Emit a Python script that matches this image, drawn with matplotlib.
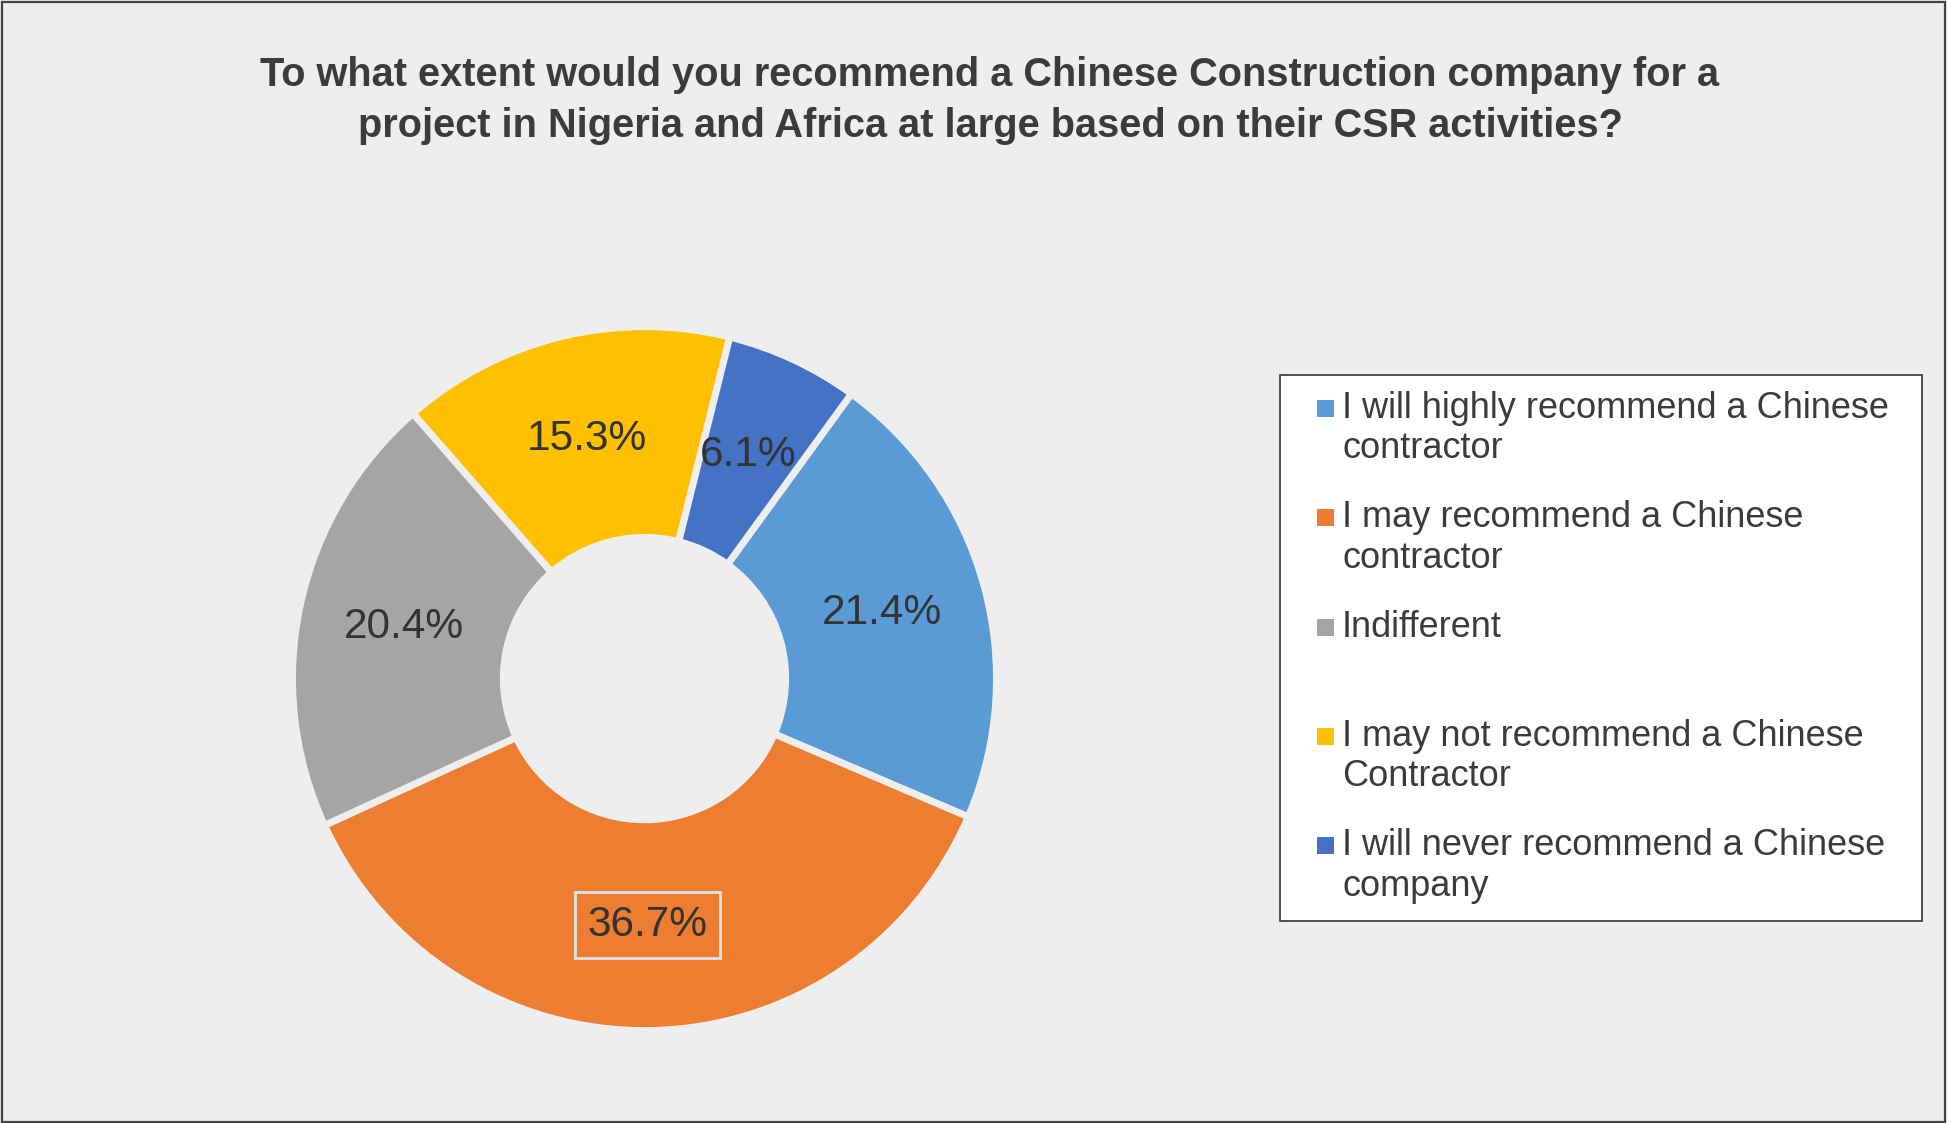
import matplotlib
matplotlib.use("Agg")
import matplotlib.pyplot as plt
from matplotlib.patches import Rectangle

# data
categories = [
    "I will highly recommend a Chinese\ncontractor",
    "I may recommend a Chinese\ncontractor",
    "Indifferent",
    "I may not recommend a Chinese\nContractor",
    "I will never recommend a Chinese\ncompany",
]
shares = [21.4, 36.7, 20.4, 15.3, 6.1]
colors = ["#5B9BD5", "#ED7D31", "#A5A5A5", "#FFC000", "#4472C4"]
title_lines = ["To what extent would you recommend a Chinese Construction company for a",
               "project in Nigeria and Africa at large based on their CSR activities?"]

bg = "#EEEEEE"
txt = "#3B3B3B"

plt.rcParams["font.family"] = ["Liberation Sans", "DejaVu Sans"]

W, H = 1947, 1123
fig = plt.figure(figsize=(W / 100, H / 100), dpi=100, facecolor=bg)

# frame around the whole chart
fig.patches.append(Rectangle((0.001, 0.001), 0.998, 0.997, transform=fig.transFigure,
                             fill=False, edgecolor="#444444", linewidth=1.6))

# title, one line at a time
for k, line in enumerate(title_lines):
    fig.text(990 / W, 1 - (75 + k * 51) / H, line, ha="center", va="center",
             fontsize=28.6, fontweight="bold", color=txt)

# donut
cx, cy, r = 644.5, 678.6, 348.5
ax = fig.add_axes([(cx - r) / W, (H - cy - r) / H, 2 * r / W, 2 * r / H])
ax.set_facecolor(bg)
wedges, _, autotexts = ax.pie(
    shares, colors=colors, startangle=54, counterclock=False, radius=1.01,
    autopct="%.1f%%", pctdistance=0.70,
    wedgeprops=dict(width=0.605, edgecolor=bg, linewidth=5),
    textprops=dict(fontsize=30.5, color="#333333"))
ax.set_xlim(-1, 1)
ax.set_ylim(-1, 1)
ax.set_aspect("equal")
ax.axis("off")
biggest = shares.index(max(shares))
autotexts[biggest].set_bbox(dict(boxstyle="square,pad=0.3", fill=False,
                                 edgecolor="#DCE3EC", linewidth=2))

# legend box
lx0, ly0, lx1, ly1 = 1280, 375, 1922, 921
fig.patches.append(Rectangle((lx0 / W, 1 - ly1 / H), (lx1 - lx0) / W, (ly1 - ly0) / H,
                             transform=fig.transFigure, facecolor="white",
                             edgecolor="#333333", linewidth=1.2))
row0, row_step, line_step = 408.5, 109.3, 40.5
sq = 17
for i, (lab, col) in enumerate(zip(categories, colors)):
    y = row0 + i * row_step
    fig.patches.append(Rectangle((1317 / W, 1 - (y + sq / 2) / H), sq / W, sq / H,
                                 transform=fig.transFigure, facecolor=col, edgecolor="none"))
    for j, line in enumerate(lab.split("\n")):
        fig.text(1342 / W, 1 - (y + j * line_step) / H, line, ha="left", va="center",
                 fontsize=26, color=txt)

fig.savefig("out.png", dpi=100, facecolor=bg)
